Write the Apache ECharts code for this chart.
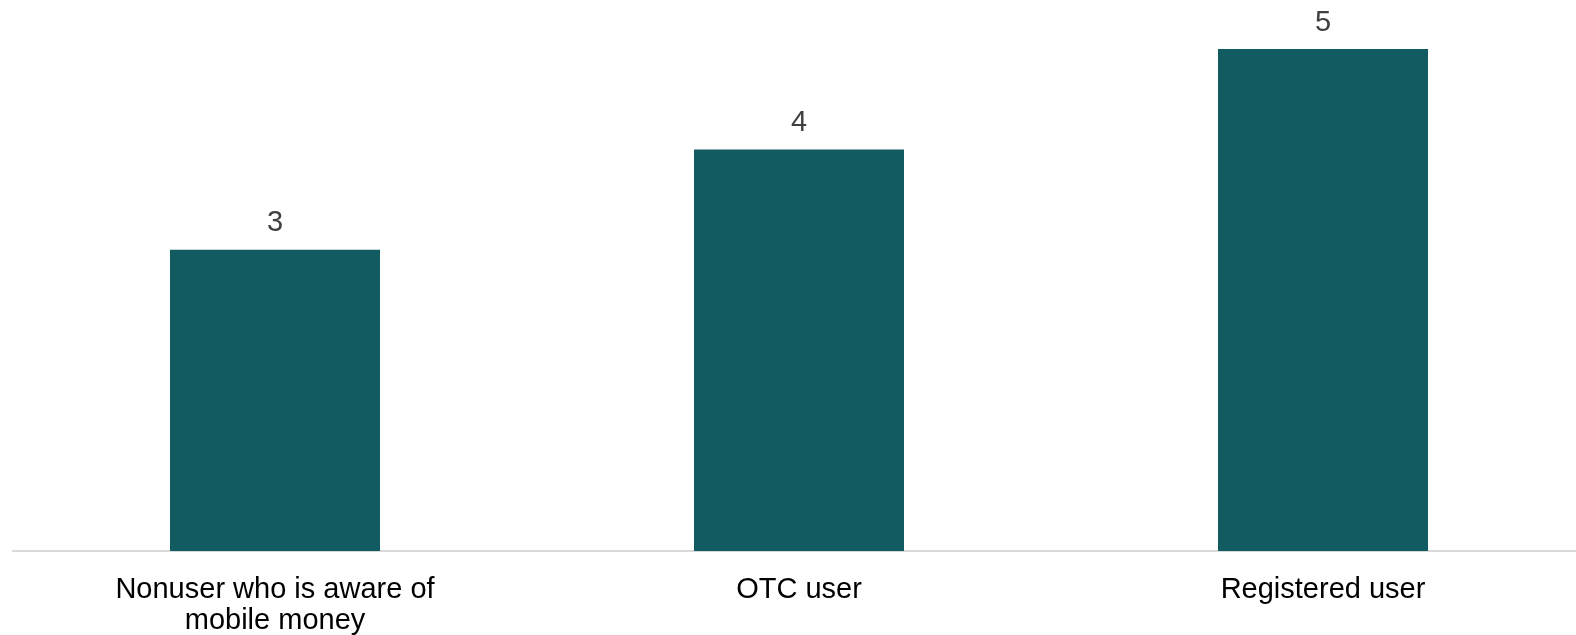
<!DOCTYPE html>
<html>
<head>
<meta charset="utf-8">
<script src="https://cdn.jsdelivr.net/npm/echarts@6/dist/echarts.min.js"></script>
<style>
  html, body { margin: 0; padding: 0; background: #ffffff; }
  #chart { width: 1576px; height: 635px; }
</style>
</head>
<body>
<div id="chart"></div>
<script>
// Categories of mobile money users and their values
const categories = ['Nonuser who is aware of\nmobile money', 'OTC user', 'Registered user'];
const values = [3, 4, 5];

const chart = echarts.init(document.getElementById('chart'));
chart.setOption({
  animation: false,
  grid: {
    left: 13, width: 1572, top: 49, bottom: 84,
    containLabel: false,
    outerBoundsMode: 'none'
  },
  xAxis: {
    type: 'category',
    data: categories,
    axisLine: { show: true, lineStyle: { color: '#d9d9d9', width: 2 } },
    axisTick: { show: false },
    axisLabel: {
      color: '#000000',
      fontFamily: 'Liberation Sans, Arial, sans-serif',
      fontSize: 29,
      lineHeight: 31,
      margin: 23,
      interval: 0
    }
  },
  yAxis: {
    type: 'value',
    min: 0,
    max: 5,
    interval: 1,
    show: false,
    splitLine: { show: false }
  },
  series: [{
    type: 'bar',
    data: values,
    barWidth: 210,
    itemStyle: { color: '#125b61' },
    label: {
      show: true,
      position: 'top',
      distance: 12,
      color: '#404040',
      fontFamily: 'Liberation Sans, Arial, sans-serif',
      fontSize: 29
    }
  }]
});
</script>
</body>
</html>
